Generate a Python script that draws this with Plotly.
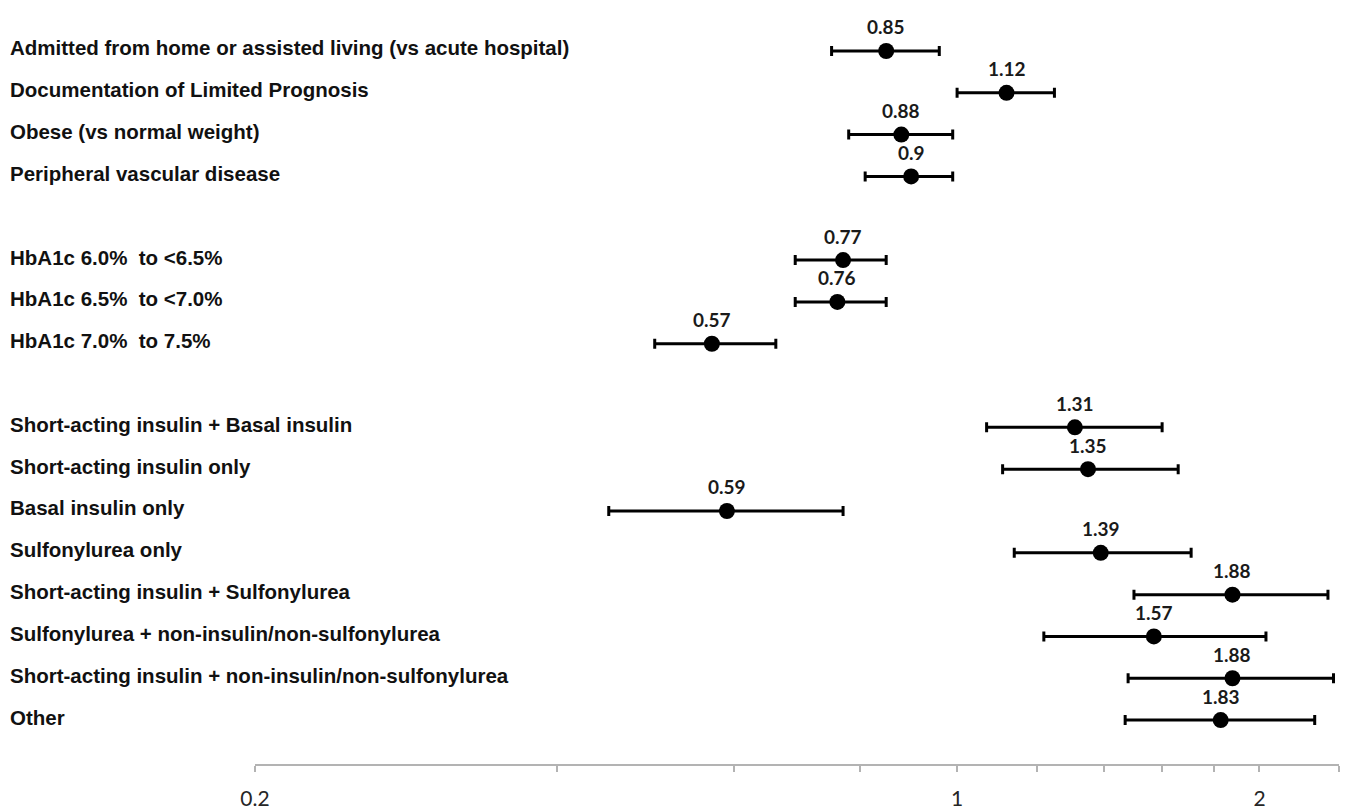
import numpy as np
import plotly.graph_objects as go

labels = [
    "Admitted from home or assisted living (vs acute hospital)",
    "Documentation of Limited Prognosis",
    "Obese (vs normal weight)",
    "Peripheral vascular disease",
    "HbA1c 6.0%  to <6.5%",
    "HbA1c 6.5%  to <7.0%",
    "HbA1c 7.0%  to 7.5%",
    "Short-acting insulin + Basal insulin",
    "Short-acting insulin only",
    "Basal insulin only",
    "Sulfonylurea only",
    "Short-acting insulin + Sulfonylurea",
    "Sulfonylurea + non-insulin/non-sulfonylurea",
    "Short-acting insulin + non-insulin/non-sulfonylurea",
    "Other",
]
rows = [0, 1, 2, 3, 5, 6, 7, 9, 10, 11, 12, 13, 14, 15, 16]
odds = [0.85, 1.12, 0.88, 0.90, 0.77, 0.76, 0.57, 1.31, 1.35, 0.59, 1.39, 1.88, 1.57, 1.88, 1.83]
ci_low = [0.75, 1.00, 0.78, 0.81, 0.69, 0.69, 0.50, 1.07, 1.11, 0.45, 1.14, 1.50, 1.22, 1.48, 1.47]
ci_high = [0.96, 1.25, 0.99, 0.99, 0.85, 0.85, 0.66, 1.60, 1.66, 0.77, 1.71, 2.34, 2.03, 2.37, 2.27]
value_text = ["0.85", "1.12", "0.88", "0.9", "0.77", "0.76", "0.57", "1.31", "1.35", "0.59",
              "1.39", "1.88", "1.57", "1.88", "1.83"]

tick_vals = [0.2, 0.4, 0.6, 0.8, 1.0, 1.2, 1.4, 1.6, 1.8, 2.0, 2.4]
tick_text = ["0.2", "", "", "", "1", "", "", "", "", "2", ""]

odds_a = np.array(odds)
lo_a = np.array(ci_low)
hi_a = np.array(ci_high)

fig = go.Figure()
fig.add_trace(go.Scatter(
    x=odds, y=rows, mode="markers",
    marker=dict(color="black", size=16),
    error_x=dict(type="data", symmetric=False,
                 array=(hi_a - odds_a).tolist(),
                 arrayminus=(odds_a - lo_a).tolist(),
                 color="black", thickness=3, width=5),
    showlegend=False, hoverinfo="skip",
))

annotations = []
for r, v, t in zip(rows, odds, value_text):
    annotations.append(dict(x=np.log10(v), y=r, xref="x", yref="y", text="<b>%s</b>" % t,
                            showarrow=False, yshift=24,
                            font=dict(family="Lato", size=19, color="#1a1a1a")))

plot_left, plot_right = 255, 1339
pw = plot_right - plot_left
for r, lab in zip(rows, labels):
    annotations.append(dict(x=(8 - plot_left) / pw, y=r, xref="paper", yref="y",
                            text="<b>%s</b>" % lab, showarrow=False, xanchor="left",
                            yshift=3,
                            font=dict(family="Liberation Sans", size=20.5, color="#111111")))

fig.update_layout(
    width=1350, height=809,
    margin=dict(l=plot_left, r=1350 - plot_right, t=10, b=45),
    paper_bgcolor="white", plot_bgcolor="white",
    annotations=annotations,
    shapes=[dict(type="line", xref="x", yref="paper", x0=0, x1=0, y0=0, y1=1,
                 line=dict(color="#b3b3b3", width=2), layer="below")],
    xaxis=dict(type="log", range=[np.log10(0.2), np.log10(2.4)],
               showgrid=False, zeroline=False, automargin=False,
               showline=True, linecolor="#b3b3b3", linewidth=2,
               ticks="outside", ticklen=6, tickcolor="#b3b3b3", tickwidth=2,
               tickvals=tick_vals, ticktext=tick_text, ticklabelstandoff=9,
               tickfont=dict(family="Lato", size=21, color="#262626")),
    yaxis=dict(range=[17.05, -0.98], visible=False, showgrid=False, zeroline=False,
               automargin=False),
)

fig.write_html("out.html")
